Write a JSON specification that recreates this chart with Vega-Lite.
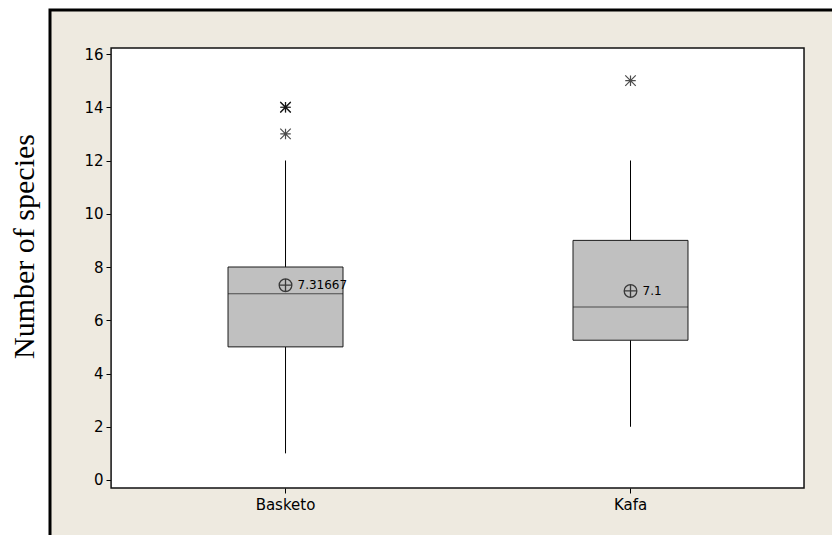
{
  "$schema": "https://vega.github.io/schema/vega-lite/v6.json",
  "autosize": {"type": "none"},
  "padding": {"left": 50, "top": 10, "right": -20, "bottom": -20},
  "width": 802,
  "height": 545,
  "background": "white",
  "config": {
    "view": {"fill": "#EEEAE0", "stroke": "black", "strokeWidth": 3},
    "axis": {"labelFont": "DejaVu Sans", "labelFontSize": 15, "labelColor": "black", "tickColor": "black", "tickWidth": 1, "grid": false, "domain": false}
  },
  "datasets": {
    "boxes": [
      {"region": "Basketo", "lower": 1, "q1": 5, "median": 7, "q3": 8, "upper": 12, "mean": 7.31667, "meanLabel": "7.31667"},
      {"region": "Kafa", "lower": 2, "q1": 5.25, "median": 6.5, "q3": 9, "upper": 12, "mean": 7.1, "meanLabel": "7.1"}
    ],
    "outliers": [
      {"region": "Basketo", "value": 14},
      {"region": "Basketo", "value": 14},
      {"region": "Basketo", "value": 13},
      {"region": "Kafa", "value": 15}
    ]
  },
  "encoding": {
    "x": {
      "field": "region", "type": "nominal", "sort": ["Basketo", "Kafa"],
      "scale": {"domain": ["Basketo", "Kafa"], "paddingInner": 0.6667, "paddingOuter": 0.4957, "align": 0.5205},
      "axis": {"title": null, "labelAngle": 0, "offset": -67, "tickSize": 5, "labelPadding": 4}
    },
    "y": {
      "type": "quantitative",
      "scale": {"domain": [-2.817, 17.653], "nice": false, "zero": false},
      "axis": {
        "title": "Number of species", "values": [0, 2, 4, 6, 8, 10, 12, 14, 16],
        "offset": -61, "tickSize": 5, "labelPadding": 3,
        "titleFont": "Liberation Serif", "titleFontSize": 30, "titleFontWeight": "normal", "titleColor": "black",
        "titleX": -78, "titleY": 236, "titleBaseline": "alphabetic", "titleAngle": 270, "titleAlign": "center"
      }
    }
  },
  "layer": [
    {
      "data": {"values": [{}]},
      "mark": {"type": "rect", "fill": "white", "stroke": "#111111", "strokeWidth": 1.5},
      "encoding": {
        "x": {"datum": "Basketo", "type": "nominal", "bandPosition": -1.017},
        "x2": {"datum": "Kafa", "bandPosition": 2.009},
        "y": {"datum": -0.3, "type": "quantitative"},
        "y2": {"datum": 16.225}
      }
    },
    {
      "data": {"name": "boxes"},
      "mark": {"type": "rule", "color": "black", "strokeWidth": 1},
      "encoding": {
        "y": {"field": "lower", "type": "quantitative"},
        "y2": {"field": "upper"}
      }
    },
    {
      "data": {"name": "boxes"},
      "mark": {"type": "bar", "fill": "#C0C0C0", "stroke": "#1a1a1a", "strokeWidth": 1},
      "encoding": {
        "y": {"field": "q1", "type": "quantitative"},
        "y2": {"field": "q3"}
      }
    },
    {
      "data": {"name": "boxes"},
      "mark": {"type": "tick", "color": "#1a1a1a", "size": 115, "thickness": 1},
      "encoding": {
        "y": {"field": "median", "type": "quantitative"}
      }
    },
    {
      "data": {"name": "outliers"},
      "mark": {"type": "point", "shape": "M-1,-1L1,1M-1,1L1,-1M-1,0L1,0M0,-1L0,1", "size": 110, "filled": false, "stroke": "black", "strokeWidth": 1.2},
      "encoding": {
        "y": {"field": "value", "type": "quantitative"}
      }
    },
    {
      "data": {"name": "boxes"},
      "mark": {"type": "point", "shape": "M-1,0A1,1 0 1,1 1,0A1,1 0 1,1 -1,0ZM-1,0L1,0M0,-1L0,1", "size": 160, "filled": false, "stroke": "black", "strokeWidth": 1.3},
      "encoding": {
        "y": {"field": "mean", "type": "quantitative"}
      }
    },
    {
      "data": {"name": "boxes"},
      "mark": {"type": "text", "align": "left", "baseline": "middle", "dx": 12, "font": "DejaVu Sans", "fontSize": 12, "color": "black"},
      "encoding": {
        "y": {"field": "mean", "type": "quantitative"},
        "text": {"field": "meanLabel"}
      }
    }
  ]
}
